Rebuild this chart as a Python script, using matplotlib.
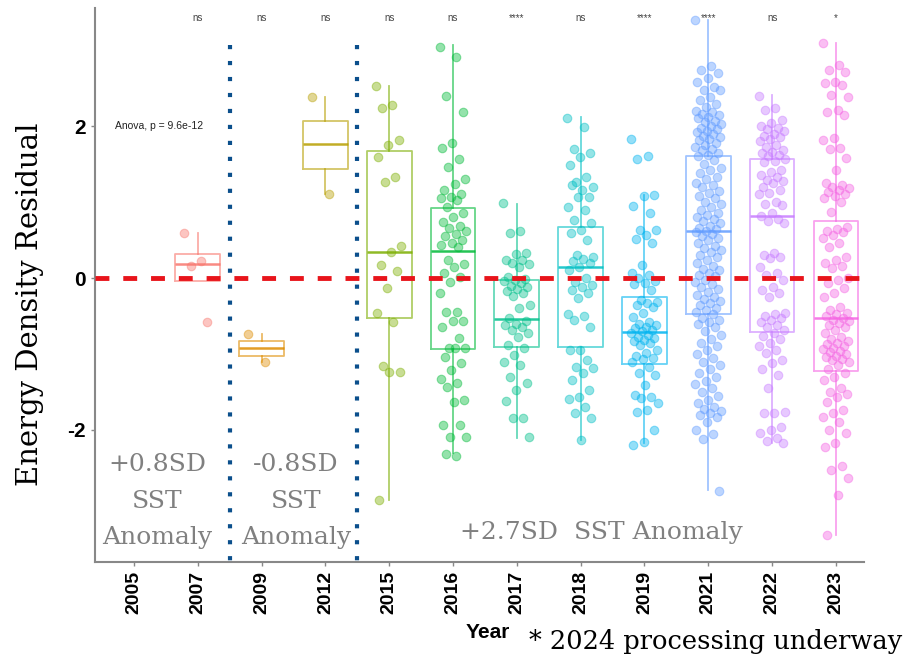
import numpy as np
import matplotlib.pyplot as plt

years = ['2005', '2007', '2009', '2012', '2015', '2016', '2017', '2018', '2019', '2021', '2022', '2023']
colors = ['#F8766D', '#F8766D', '#DE8C00', '#B79F00', '#7CAE00', '#00BA38', '#00C08B',
          '#00BFC4', '#00B4F0', '#619CFF', '#C77CFF', '#F564E3']
signif = ['', 'ns', 'ns', 'ns', 'ns', 'ns', '****', 'ns', '****', '****', 'ns', '*']

# box stats (2005 has no data)
q1 = [None, -0.04, -1.03, 1.43, -0.53, -0.93, -0.91, -0.91, -1.13, -0.47, -0.71, -1.22]
med = [None, 0.18, -0.92, 1.76, 0.34, 0.36, -0.54, 0.14, -0.71, 0.62, 0.82, -0.53]
q3 = [None, 0.32, -0.83, 2.07, 1.67, 0.92, -0.02, 0.67, -0.25, 1.61, 1.57, 0.75]
wlo = [None, -0.04, -1.11, 1.11, -2.92, -2.30, -2.10, -2.13, -2.17, -2.79, -2.17, -3.38]
whi = [None, 0.59, -0.74, 2.38, 2.53, 3.07, 0.98, 2.12, 1.09, 3.39, 2.41, 3.09]

v2005 = []
v2007 = [0.59, 0.22, 0.16, -0.58]
v2009 = [-0.74, -1.11]
v2012 = [2.38, 1.11]
v2015 = [2.53, 2.28, 2.24, 1.82, 1.75, 1.59, 1.33, 1.26, 0.42, 0.34, 0.17, 0.09, -0.13,
         -0.46, -0.58, -1.16, -1.24, -1.24, -2.92]
v2016 = [3.04, 2.91, 2.40, 2.19, 1.77, 1.71, 1.57, 1.46, 1.30, 1.24, 1.16, 1.10, 1.07, 1.05,
         1.03, 0.93, 0.85, 0.80, 0.74, 0.68, 0.66, 0.62, 0.58, 0.55, 0.50, 0.46, 0.43, 0.41,
         0.24, 0.18, 0.15, 0.07, 0.01, -0.05, -0.20, -0.45, -0.45, -0.57, -0.57, -0.64, -0.79,
         -0.92, -0.92, -0.92, -1.04, -1.12, -1.21, -1.33, -1.38, -1.43, -1.61, -1.63, -1.93,
         -1.93, -2.09, -2.09, -2.34, -2.32]
v2017 = [0.99, 0.62, 0.59, 0.33, 0.31, 0.24, 0.24, 0.20, 0.18, 0.14, 0.01, -0.01, -0.03,
         -0.04, -0.07, -0.10, -0.12, -0.14, -0.17, -0.20, -0.24, -0.35, -0.39, -0.53, -0.57,
         -0.60, -0.62, -0.64, -0.68, -0.72, -0.78, -0.88, -0.92, -1.01, -1.10, -1.14, -1.30,
         -1.38, -1.47, -1.62, -1.84, -1.84, -2.09]
v2018 = [2.10, 1.99, 1.70, 1.64, 1.59, 1.49, 1.33, 1.26, 1.20, 1.16, 1.22, 1.07, 1.07, 0.93,
         0.89, 0.76, 0.72, 0.63, 0.59, 0.50, 0.30, 0.27, 0.25, 0.22, 0.20, 0.14, 0.10, 0.00,
         -0.05, -0.09, -0.12, -0.16, -0.20, -0.26, -0.47, -0.50, -0.55, -0.64, -0.95, -0.95,
         -1.08, -1.17, -1.19, -1.25, -1.34, -1.47, -1.57, -1.59, -1.70, -1.78, -1.84, -2.13]
v2019 = [1.83, 1.60, 1.57, 1.09, 1.08, 0.95, 0.86, 0.63, 0.63, 0.57, 0.51, 0.46, 0.17, 0.06,
         0.04, 0.00, -0.04, -0.06, -0.08, -0.16, -0.29, -0.31, -0.33, -0.36, -0.38, -0.46,
         -0.51, -0.58, -0.60, -0.62, -0.64, -0.66, -0.68, -0.70, -0.72, -0.75, -0.77, -0.79,
         -0.81, -0.83, -0.85, -0.88, -0.95, -0.99, -1.03, -1.05, -1.07, -1.10, -1.17, -1.25,
         -1.28, -1.41, -1.54, -1.56, -1.58, -1.65, -1.74, -1.76, -2.00, -2.16, -2.20]
v2021 = [3.39, 2.79, 2.74, 2.70, 2.63, 2.58, 2.52, 2.47, 2.47, 2.38, 2.34, 2.29, 2.25, 2.20,
         2.18, 2.16, 2.14, 2.12, 2.10, 2.07, 2.05, 2.03, 2.00, 1.98, 1.96, 1.94, 1.92, 1.89,
         1.87, 1.85, 1.83, 1.81, 1.78, 1.75, 1.72, 1.70, 1.68, 1.65, 1.62, 1.60, 1.55, 1.50,
         1.45, 1.42, 1.38, 1.33, 1.30, 1.25, 1.22, 1.20, 1.15, 1.12, 1.08, 1.05, 1.00, 0.97,
         0.93, 0.90, 0.86, 0.83, 0.80, 0.78, 0.75, 0.72, 0.68, 0.66, 0.64, 0.62, 0.60, 0.58,
         0.55, 0.52, 0.50, 0.46, 0.42, 0.40, 0.37, 0.34, 0.30, 0.27, 0.24, 0.20, 0.16, 0.12,
         0.10, 0.07, 0.04, 0.02, -0.02, -0.05, -0.08, -0.12, -0.15, -0.18, -0.22, -0.25, -0.28,
         -0.30, -0.33, -0.36, -0.40, -0.42, -0.45, -0.48, -0.52, -0.55, -0.58, -0.60, -0.65,
         -0.70, -0.75, -0.80, -0.85, -0.90, -0.95, -1.00, -1.05, -1.10, -1.15, -1.20, -1.25,
         -1.30, -1.35, -1.40, -1.45, -1.50, -1.55, -1.60, -1.65, -1.70, -1.72, -1.75, -1.78,
         -1.80, -1.83, -1.90, -2.00, -2.05, -2.12, -2.80]
v2022 = [2.39, 2.24, 2.21, 2.08, 2.04, 2.00, 1.98, 1.96, 1.93, 1.90, 1.87, 1.85, 1.83, 1.80,
         1.75, 1.72, 1.68, 1.66, 1.64, 1.62, 1.60, 1.57, 1.54, 1.52, 1.42, 1.40, 1.36, 1.33,
         1.29, 1.27, 1.25, 1.20, 1.16, 1.12, 1.10, 1.00, 0.98, 0.96, 0.86, 0.82, 0.78, 0.75,
         0.72, 0.33, 0.30, 0.28, 0.26, 0.14, 0.07, 0.04, -0.03, -0.12, -0.16, -0.20, -0.25,
         -0.46, -0.48, -0.50, -0.52, -0.55, -0.58, -0.62, -0.65, -0.68, -0.72, -0.76, -0.80,
         -0.85, -0.90, -0.95, -0.99, -1.08, -1.12, -1.20, -1.28, -1.45, -1.76, -1.78, -1.78,
         -1.96, -2.00, -2.04, -2.10, -2.14, -2.17]
v2023 = [3.09, 2.80, 2.74, 2.71, 2.58, 2.56, 2.54, 2.41, 2.38, 2.21, 2.18, 2.14, 1.84, 1.82,
         1.71, 1.70, 1.58, 1.42, 1.25, 1.22, 1.20, 1.18, 1.16, 1.13, 1.10, 1.08, 1.05, 1.00,
         0.87, 0.67, 0.65, 0.62, 0.60, 0.57, 0.53, 0.46, 0.41, 0.28, 0.24, 0.20, 0.16, 0.13,
         0.00, -0.03, -0.07, -0.13, -0.20, -0.25, -0.38, -0.42, -0.46, -0.48, -0.50, -0.52,
         -0.55, -0.57, -0.59, -0.62, -0.64, -0.69, -0.73, -0.77, -0.80, -0.83, -0.85, -0.87,
         -0.90, -0.92, -0.94, -0.96, -0.98, -1.00, -1.02, -1.04, -1.06, -1.08, -1.10, -1.15,
         -1.20, -1.25, -1.30, -1.34, -1.45, -1.50, -1.53, -1.57, -1.63, -1.74, -1.78, -1.83,
         -1.89, -2.00, -2.04, -2.17, -2.22, -2.48, -2.53, -2.63, -2.86, -3.38]
values = [v2005, v2007, v2009, v2012, v2015, v2016, v2017, v2018, v2019, v2021, v2022, v2023]

serif = 'DejaVu Serif'
sans = 'Liberation Sans'

plt.rcParams['lines.scale_dashes'] = False

fig = plt.figure(figsize=(9.06, 6.61), dpi=100)
ax = fig.add_axes([95/906, 99/661, 769/906, 554/661])

pos = np.arange(len(years))
for i in range(len(years)):
    if q1[i] is None:
        continue
    c = colors[i]
    st = [dict(med=med[i], q1=q1[i], q3=q3[i], whislo=wlo[i], whishi=whi[i], fliers=[])]
    ax.bxp(st, positions=[i], widths=0.7, showcaps=False, patch_artist=False,
           boxprops=dict(color=c, lw=1.3, alpha=0.6),
           whiskerprops=dict(color=c, lw=1.3, alpha=0.6),
           medianprops=dict(color=c, lw=1.8, alpha=0.85))
    v = np.array(values[i])
    jit = ((np.arange(len(v)) * 0.6180339887) % 1 - 0.5) * 0.42
    ax.scatter(i + jit, v, s=38, color=c, alpha=0.42, edgecolors=c, linewidths=0.8, zorder=3)
    ax.text(i, 3.42, signif[i], ha='center', va='center', fontsize=7, color='#444444',
            family=sans)

ax.axhline(0, color='#E8141B', lw=3.5, dashes=(10, 10), zorder=5)
for xv in [1.5, 3.5]:
    ax.plot([xv, xv], [3.07, -3.74], color='#0B4F8C', lw=3, dashes=(3, 8.5),
            dash_capstyle='butt', zorder=5, clip_on=False)

ax.text(0.4, 2.0, 'Anova, p = 9.6e-12', ha='center', va='center', fontsize=7.5,
        color='#222222', family=sans)

ax.set_xlim(-0.61, 11.44)
ax.set_ylim(-3.737, 3.553)
ax.set_xticks(pos)
ax.set_xticklabels(years, rotation=90, fontsize=14, fontweight='bold', family=sans)
ax.set_yticks([-2, 0, 2])
ax.set_yticklabels(['-2', '0', '2'], fontsize=15, fontweight='bold', family=sans)
ax.tick_params(length=3, color='#888888', width=1)
for s in ['top', 'right']:
    ax.spines[s].set_visible(False)
for s in ['left', 'bottom']:
    ax.spines[s].set_color('#888888')
    ax.spines[s].set_linewidth(1.5)

fig.text(30/906, 1 - 304/661, 'Energy Density Residual', rotation=90, ha='center',
         va='center', fontsize=21, family=serif, color='black')
fig.text(488/906, 1 - 633/661, 'Year', ha='center', va='center', fontsize=15,
         fontweight='bold', family=sans)
fig.text(902/906, 1 - 642/661, '* 2024 processing underway', ha='right', va='center',
         fontsize=18.5, family=serif, color='black')

gray = '#808080'
fig.text(157/906, 1 - 501/661, '+0.8SD\nSST\nAnomaly', ha='center', va='center',
         fontsize=18, family=serif, color=gray, linespacing=1.75)
fig.text(296/906, 1 - 501/661, '-0.8SD\nSST\nAnomaly', ha='center', va='center',
         fontsize=18, family=serif, color=gray, linespacing=1.75)
fig.text(601/906, 1 - 532/661, '+2.7SD  SST Anomaly', ha='center', va='center',
         fontsize=18, family=serif, color=gray)

fig.savefig('out.png', dpi=100)
